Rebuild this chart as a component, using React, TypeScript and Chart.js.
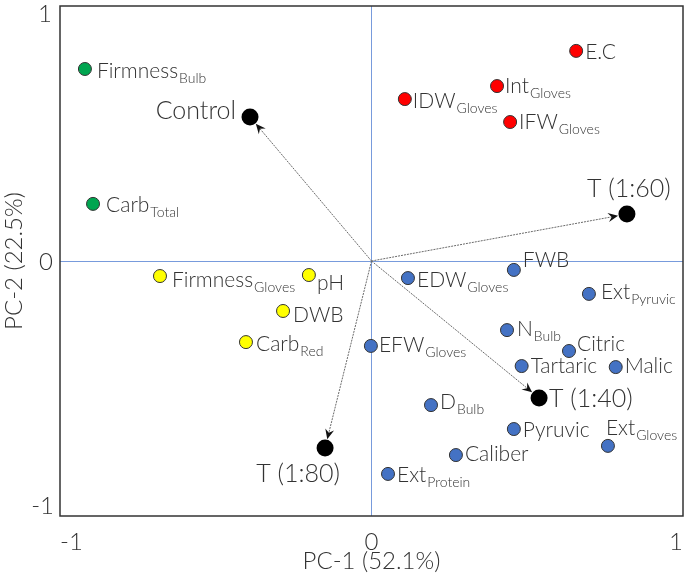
import React, { useEffect, useRef } from "react";
import { Chart, registerables } from "chart.js";

Chart.register(...registerables);

// ---------- data ----------
const varNames = [
  "Firmness", "Carb", "Firmness", "pH", "DWB", "Carb",
  "E.C", "Int", "IDW", "IFW",
  "FWB", "EDW", "Ext", "N", "Citric", "Tartaric", "Malic", "EFW", "D", "Pyruvic", "Ext", "Caliber", "Ext",
];
const varSubs = [
  "Bulb", "Total", "Gloves", "", "", "Red",
  "", "Gloves", "Gloves", "Gloves",
  "", "Gloves", "Pyruvic", "Bulb", "", "", "", "Gloves", "Bulb", "", "Gloves", "", "Protein",
];
const varPC1 = [
  -0.92, -0.894, -0.679, -0.201, -0.284, -0.403,
  0.657, 0.403, 0.107, 0.445,
  0.457, 0.117, 0.698, 0.435, 0.634, 0.482, 0.784, -0.002, 0.191, 0.457, 0.759, 0.271, 0.053,
];
const varPC2 = [
  0.753, 0.224, -0.059, -0.055, -0.196, -0.318,
  0.824, 0.686, 0.635, 0.545,
  -0.035, -0.067, -0.129, -0.271, -0.353, -0.412, -0.416, -0.333, -0.565, -0.659, -0.725, -0.761, -0.835,
];
const varGroup = [
  "green", "green", "yellow", "yellow", "yellow", "yellow",
  "red", "red", "red", "red",
  "blue", "blue", "blue", "blue", "blue", "blue", "blue", "blue", "blue", "blue", "blue", "blue", "blue",
];

const treatNames = ["Control", "T (1:60)", "T (1:40)", "T (1:80)"];
const treatPC1 = [-0.39, 0.82, 0.538, -0.149];
const treatPC2 = [0.565, 0.184, -0.537, -0.733];

const xTicks = [-1, 0, 1];
const yTicks = [-1, 0, 1];
const xTitle = "PC-1 (52.1%)";
const yTitle = "PC-2 (22.5%)";

// ---------- styles ----------
const groupColors: Record<string, string> = {
  green: "#00a550",
  yellow: "#ffff00",
  red: "#ff0000",
  blue: "#4472c4",
};
const FONT = "Lato, 'Open Sans', sans-serif";
const W8 = "300";
const TEXT = "#333333";
const ZERO_LINE = "rgb(120, 155, 220)";

// label placement: key = "name|sub"
const placement: Record<string, { dx: number; dy: number; align?: CanvasTextAlign }> = {
  "Firmness|Bulb": { dx: 12, dy: 9 },
  "Carb|Total": { dx: 13, dy: 8 },
  "Firmness|Gloves": { dx: 12, dy: 11 },
  "pH|": { dx: 8, dy: 15 },
  "DWB|": { dx: 10, dy: 11 },
  "Carb|Red": { dx: 10, dy: 9 },
  "E.C|": { dx: 9, dy: 8 },
  "Int|Gloves": { dx: 8, dy: 7 },
  "IDW|Gloves": { dx: 8, dy: 9 },
  "IFW|Gloves": { dx: 9, dy: 7 },
  "FWB|": { dx: 9, dy: -3 },
  "EDW|Gloves": { dx: 9, dy: 9 },
  "Ext|Pyruvic": { dx: 12, dy: 5 },
  "N|Bulb": { dx: 10, dy: 6 },
  "Citric|": { dx: 8, dy: 0 },
  "Tartaric|": { dx: 9, dy: 7 },
  "Malic|": { dx: 9, dy: 6 },
  "EFW|Gloves": { dx: 8, dy: 6 },
  "D|Bulb": { dx: 9, dy: 4 },
  "Pyruvic|": { dx: 9, dy: 8 },
  "Ext|Gloves": { dx: -2, dy: -11 },
  "Caliber|": { dx: 9, dy: 6 },
  "Ext|Protein": { dx: 9, dy: 8 },
  "Control|": { dx: -14, dy: 2, align: "right" },
  "T (1:60)|": { dx: 2, dy: -17, align: "center" },
  "T (1:40)|": { dx: 10, dy: 9 },
  "T (1:80)|": { dx: -27, dy: 34, align: "center" },
};

const boxPlugin = {
  id: "boxAndArrows",
  beforeDatasetsDraw(chart: any) {
    const { ctx, scales, chartArea } = chart;
    const ox = scales.x.getPixelForValue(0);
    const oy = scales.y.getPixelForValue(0);
    ctx.save();
    // zero lines (filled 1px rects, clipped to the plot area)
    const cx = Math.floor(ox);
    const cy = Math.floor(oy);
    ctx.fillStyle = ZERO_LINE;
    ctx.fillRect(cx, chartArea.top, 1, chartArea.bottom - chartArea.top);
    ctx.fillRect(chartArea.left, cy, chartArea.right - chartArea.left, 1);
    // arrows to treatments
    const meta = chart.getDatasetMeta(chart.data.datasets.length - 1);
    meta.data.forEach((pt: any) => {
      const dx = pt.x - ox;
      const dy = pt.y - oy;
      const len = Math.sqrt(dx * dx + dy * dy);
      const ux = dx / len;
      const uy = dy / len;
      const tipX = pt.x - ux * 9;
      const tipY = pt.y - uy * 9;
      ctx.strokeStyle = "#6a6a6a";
      ctx.lineWidth = 1;
      ctx.setLineDash([2, 1]);
      ctx.beginPath();
      ctx.moveTo(ox, oy);
      ctx.lineTo(tipX - ux * 5, tipY - uy * 5);
      ctx.stroke();
      ctx.setLineDash([]);
      const L = 10;
      const W = 4.5;
      const bx = tipX - ux * L;
      const by = tipY - uy * L;
      const nx = -uy;
      const ny = ux;
      ctx.fillStyle = "#111";
      ctx.beginPath();
      ctx.moveTo(tipX, tipY);
      ctx.lineTo(bx + nx * W, by + ny * W);
      ctx.lineTo(tipX - ux * L * 0.65, tipY - uy * L * 0.65);
      ctx.lineTo(bx - nx * W, by - ny * W);
      ctx.closePath();
      ctx.fill();
    });
    ctx.restore();
  },
  afterDatasetsDraw(chart: any) {
    const { ctx, chartArea, scales } = chart;
    ctx.save();
    chart.data.datasets.forEach((ds: any, di: number) => {
      const meta = chart.getDatasetMeta(di);
      meta.data.forEach((pt: any, i: number) => {
        const d = ds.data[i];
        const key = d.name + "|" + d.sub;
        const p = placement[key] || { dx: 9, dy: 7 };
        const mainSize = d.treat ? 25 : 21;
        ctx.font = `${W8} ${mainSize}px ${FONT}`;
        const mainW = ctx.measureText(d.name).width;
        ctx.font = `${W8} 14px ${FONT}`;
        const subW = d.sub ? ctx.measureText(d.sub).width + 1 : 0;
        const total = mainW + subW;
        let x = pt.x + p.dx;
        if (p.align === "right") x -= total;
        else if (p.align === "center") x -= total / 2;
        const y = pt.y + p.dy;
        ctx.fillStyle = TEXT;
        ctx.textAlign = "left";
        ctx.textBaseline = "alphabetic";
        ctx.font = `${W8} ${mainSize}px ${FONT}`;
        ctx.fillText(d.name, x, y);
        if (d.sub) {
          ctx.font = `${W8} 14px ${FONT}`;
          ctx.fillText(d.sub, x + mainW + 1, y + 5);
        }
      });
    });
    const ys = scales.y;
    ctx.font = `${W8} 24px ${FONT}`;
    ctx.fillStyle = TEXT;
    ctx.textAlign = "right";
    yTicks.forEach((v) => {
      const py = ys.getPixelForValue(v);
      if (v === ys.max) {
        ctx.textBaseline = "top";
        ctx.fillText(String(v), 52, py - 4);
      } else if (v === ys.min) {
        ctx.textBaseline = "bottom";
        ctx.fillText(String(v), 54, py + 2);
      } else {
        ctx.textBaseline = "middle";
        ctx.fillText(String(v), 53, py + 1);
      }
    });
    ctx.strokeStyle = "#333";
    ctx.lineWidth = 1.5;
    ctx.strokeRect(chartArea.left, chartArea.top, chartArea.right - chartArea.left, chartArea.bottom - chartArea.top);
    ctx.restore();
  },
};

export default function App() {
  const ref = useRef<HTMLCanvasElement | null>(null);
  useEffect(() => {
    document.body.style.margin = "0";
    if (!ref.current) return;
    const groups = ["green", "yellow", "red", "blue"];
    const datasets: any[] = groups.map((g) => ({
      label: g,
      data: varNames
        .map((n, i) => ({ x: varPC1[i], y: varPC2[i], name: n, sub: varSubs[i], g: varGroup[i] }))
        .filter((d) => d.g === g),
      backgroundColor: groupColors[g],
      borderColor: "#333",
      borderWidth: 1,
      pointRadius: 6.5,
    }));
    datasets.push({
      label: "treatments",
      data: treatNames.map((n, i) => ({ x: treatPC1[i], y: treatPC2[i], name: n, sub: "", treat: true })),
      backgroundColor: "#000",
      borderColor: "#000",
      borderWidth: 0,
      pointRadius: 8.5,
    });
    const chart = new Chart(ref.current, {
      type: "scatter",
      data: { datasets },
      plugins: [boxPlugin],
      options: {
        animation: false,
        responsive: false,
        layout: { autoPadding: false, padding: { top: 6, right: 2, left: 0, bottom: 0 } },
        plugins: { legend: { display: false }, tooltip: { enabled: false } },
        scales: {
          x: {
            type: "linear",
            min: -1,
            max: 1,
            afterBuildTicks: (s: any) => {
              s.ticks = xTicks.map((v) => ({ value: v }));
            },
            afterFit: (s: any) => {
              s.height = 63;
              s.paddingLeft = 0;
              s.paddingRight = 0;
            },
            ticks: { font: { size: 24, family: FONT, weight: W8 }, color: TEXT, align: "inner", padding: 4 },
            grid: { display: false },
            border: { display: false },
            title: {
              display: true,
              text: xTitle,
              font: { size: 24, family: FONT, weight: W8 },
              color: TEXT,
              padding: { top: 0, bottom: 3 },
            },
          },
          y: {
            type: "linear",
            min: -1,
            max: 1,
            afterBuildTicks: (s: any) => {
              s.ticks = yTicks.map((v) => ({ value: v }));
            },
            afterFit: (s: any) => {
              s.width = 60;
              s.paddingTop = 0;
              s.paddingBottom = 0;
            },
            ticks: { display: false },
            grid: { display: false },
            border: { display: false },
            title: {
              display: true,
              text: yTitle,
              font: { size: 24, family: FONT, weight: W8 },
              color: TEXT,
              padding: { top: 0, bottom: 0 },
            },
          },
        },
      } as any,
    });
    return () => chart.destroy();
  }, []);
  return (
    <div style={{ width: 685, height: 579 }}>
      <canvas ref={ref} width={685} height={579} style={{ display: "block" }} />
    </div>
  );
}
